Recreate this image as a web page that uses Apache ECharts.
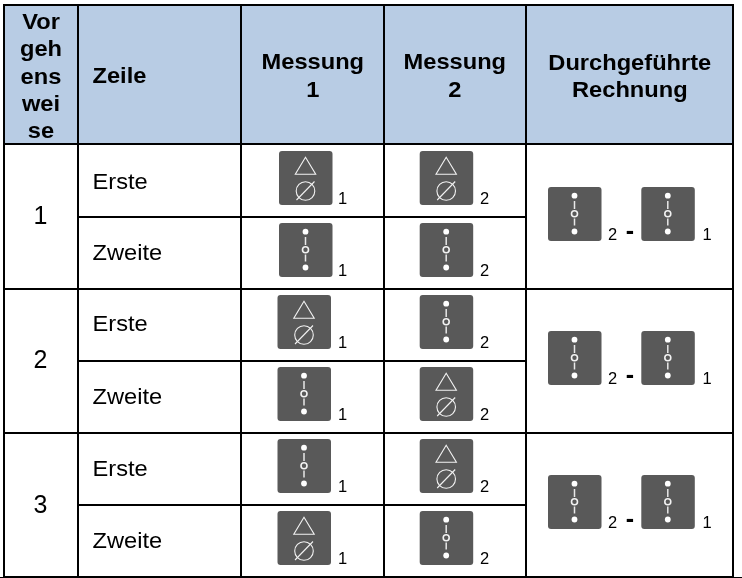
<!DOCTYPE html>
<html><head><meta charset="utf-8">
<style>html,body{margin:0;padding:0;background:#fff}#c{width:742px;height:578px}</style>
<script src="https://cdn.jsdelivr.net/npm/echarts@6/dist/echarts.min.js"></script>
</head><body><div id="c"></div>
<script>
// ---- data ----
const headerLabels = ['Vor\ngeh\nens\nwei\nse', 'Zeile', 'Messung\n1', 'Messung\n2', 'Durchgeführte\nRechnung'];
const procedures = ['1', '2', '3'];
const lineNames = ['Erste', 'Zweite'];
const measurement1 = ['delta', 'dots', 'delta', 'dots', 'dots', 'delta'];
const measurement2 = ['delta', 'dots', 'dots', 'delta', 'delta', 'dots'];
const calcOperands = [['dots', '2'], ['dots', '1']];
const calcOperator = '-';
const indexM1 = '1', indexM2 = '2';

// ---- layout (pixels on the hidden axes) ----
const colX = [4, 78, 241, 384, 526, 733];
const rowY = [5, 144, 217, 289, 361, 433, 505, 577];
const lineTextY = [182.8, 254, 325.1, 397.8, 469.8, 541.8];
const procTextY = [217, 361, 506.5];
const m1BoxX = [279, 279, 277.5, 277.5, 277.5, 277.5];
const m1BoxTop = [151, 223, 295, 367, 439, 511];
const calcBoxTop = [187, 331, 475];
const FONT = '"Liberation Sans", Arial, sans-serif';
const HF = 22, BF = 22, WIDE = 1.075;
const BOX = 53.5, BOXH = 54;
const ICON_BG = '#595959';

const chart = echarts.init(document.getElementById('c'), null, {renderer: 'canvas'});

function rectNode(api, x0, y0, x1, y1, style, r) {
  const a = api.coord([x0, y0]), b = api.coord([x1, y1]);
  return {type: 'rect', shape: {x: a[0], y: a[1], width: b[0] - a[0], height: b[1] - a[1], r: r || 0}, style};
}
function lineNode(api, x0, y0, x1, y1, color, w) {
  const a = api.coord([x0, y0]), b = api.coord([x1, y1]);
  return {type: 'line', shape: {x1: a[0], y1: a[1], x2: b[0], y2: b[1]}, style: {stroke: color, lineWidth: w, fill: null}};
}
function textNode(api, x, y, text, size, bold, align, lh, sx) {
  const a = api.coord([x, y]);
  return {type: 'text', x: a[0], y: a[1], scaleX: sx || 1, style: {text, fill: '#000', font: (bold ? 'bold ' : '') + size + 'px ' + FONT,
    align: align || 'center', verticalAlign: 'middle', lineHeight: lh || Math.round(size * 1.17)}};
}
function iconNode(api, kind, x, y) {
  const p = (dx, dy) => api.coord([x + dx, y + dy]);
  const kids = [];
  const o = p(0, 0), e = p(BOX, BOXH);
  kids.push({type: 'rect', shape: {x: o[0], y: o[1], width: e[0] - o[0], height: e[1] - o[1], r: 3}, style: {fill: ICON_BG}});
  const white = {stroke: '#f2f2f2', lineWidth: 1.1, fill: null};
  const cx = 26.5;
  if (kind === 'delta') {
    const t = p(cx, 6.3), l = p(cx - 10.2, 23.2), r = p(cx + 10.2, 23.2);
    kids.push({type: 'polygon', shape: {points: [t, l, r]}, style: white});
    const c = p(cx, 40);
    kids.push({type: 'circle', shape: {cx: c[0], cy: c[1], r: 9.3}, style: white});
    const s0 = p(cx - 9, 49), s1 = p(cx + 9, 30.5);
    kids.push({type: 'line', shape: {x1: s0[0], y1: s0[1], x2: s1[0], y2: s1[1]}, style: white});
  } else {
    [8.7, 44.5].forEach(dy => {
      const c = p(cx, dy);
      kids.push({type: 'circle', shape: {cx: c[0], cy: c[1], r: 2.9}, style: {fill: '#fff'}});
    });
    const c = p(cx, 26.7);
    kids.push({type: 'circle', shape: {cx: c[0], cy: c[1], r: 3}, style: {stroke: '#f2f2f2', lineWidth: 1.6, fill: null}});
    [[14, 22], [31.5, 38.5]].forEach(s => {
      const a = p(cx, s[0]), b = p(cx, s[1]);
      kids.push({type: 'line', shape: {x1: a[0], y1: a[1], x2: b[0], y2: b[1]}, style: {stroke: '#e8e8e8', lineWidth: 1.5}});
    });
  }
  return {type: 'group', children: kids};
}

function renderTable(params, api) {
  const kids = [];
  // header fill
  kids.push(rectNode(api, colX[0], rowY[0], colX[5], rowY[1], {fill: '#b8cce4'}));
  // grid lines
  const H = '#000', W = 2;
  colX.forEach(x => kids.push(lineNode(api, x, rowY[0] - 1, x, rowY[7] + 1, H, W)));
  [0, 1, 3, 5, 7].forEach(i => kids.push(lineNode(api, colX[0], rowY[i], colX[5], rowY[i], H, W)));
  [2, 4, 6].forEach(i => kids.push(lineNode(api, colX[1], rowY[i], colX[4], rowY[i], H, W)));
  kids.push(lineNode(api, 0, 577.5, 742, 577.5, '#000', 1));
  // headers
  kids.push(textNode(api, 41, 77.5, headerLabels[0], HF, true, 'center', 27.3, WIDE));
  kids.push(textNode(api, 92.5, 77.3, headerLabels[1], HF, true, 'left', null, WIDE));
  kids.push(textNode(api, 312.8, 77, headerLabels[2], HF, true, 'center', 27.5, WIDE));
  kids.push(textNode(api, 454.8, 77, headerLabels[3], HF, true, 'center', 27.5, WIDE));
  kids.push(textNode(api, 629.8, 77, headerLabels[4], HF, true, 'center', 27, WIDE));
  // procedure numbers
  procedures.forEach((t, g) => kids.push(textNode(api, 40.5, procTextY[g], t, 25, false)));
  // lines + icons
  for (let r = 0; r < 6; r++) {
    const top = m1BoxTop[r];
    kids.push(textNode(api, 92.5, lineTextY[r], lineNames[r % 2], BF, false, 'left', null, WIDE));
    kids.push(iconNode(api, measurement1[r], m1BoxX[r], top));
    kids.push(textNode(api, 338, top + 48, indexM1, 16.5, false, 'left'));
    kids.push(iconNode(api, measurement2[r], 419.7, top));
    kids.push(textNode(api, 480, top + 48, indexM2, 16.5, false, 'left'));
  }
  // calculations
  procedures.forEach((t, g) => {
    const top = calcBoxTop[g];
    kids.push(iconNode(api, calcOperands[0][0], 548, top));
    kids.push(textNode(api, 608, top + 48, calcOperands[0][1], 16.5, false, 'left'));
    kids.push(textNode(api, 629.8, top + 45.5, calcOperator, 25, true));
    kids.push(iconNode(api, calcOperands[1][0], 641.3, top));
    kids.push(textNode(api, 702.5, top + 48, calcOperands[1][1], 16.5, false, 'left'));
  });
  return {type: 'group', children: kids};
}

chart.setOption({
  animation: false,
  backgroundColor: '#fff',
  grid: {left: 0, right: 0, top: 0, bottom: 0},
  xAxis: {type: 'value', min: 0, max: 742, show: false},
  yAxis: {type: 'value', min: 0, max: 578, inverse: true, show: false},
  tooltip: {show: false},
  series: [{type: 'custom', silent: true, clip: false, data: [[0, 0]], coordinateSystem: 'cartesian2d', renderItem: renderTable}]
});
</script></body></html>
